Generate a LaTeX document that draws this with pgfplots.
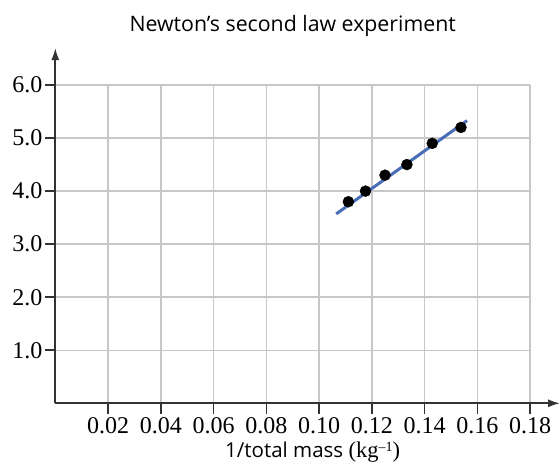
\documentclass[border=0pt]{standalone}
\usepackage{fontspec}
\setmainfont{Liberation Serif}
\newfontfamily\sans{Open Sans}
\usepackage{pgfplots}
\pgfplotsset{compat=1.18}
\usetikzlibrary{arrows.meta}
\definecolor{fitblue}{HTML}{4A6DB8}
\definecolor{axgray}{HTML}{333333}
\begin{document}
\begin{tikzpicture}
\begin{axis}[
  name=ax,
  scale only axis,
  width=474.8pt, height=318.3pt,
  xmin=0, xmax=0.18, ymin=0, ymax=6,
  axis x line=bottom, axis y line=left,
  x axis line style={-{Latex[length=12pt,width=8pt]}, shorten >=-30pt},
  y axis line style={-{Latex[length=12pt,width=8pt]}, shorten >=-37pt},
  axis line style={axgray, line width=1.8pt},
  xtick={0.02,0.04,0.06,0.08,0.10,0.12,0.14,0.16,0.18},
  xticklabels={0.02,0.04,0.06,0.08,0.10,0.12,0.14,0.16,0.18},
  ytick={1,2,3,4,5,6},
  yticklabels={1.0,2.0,3.0,4.0,5.0,6.0},
  tick align=outside,
  major tick length=10.5pt,
  tick style={axgray, line width=1.5pt},
  grid=major,
  major grid style={black!22, line width=1.4pt},
  ticklabel style={font=\fontsize{24}{26}\selectfont},
  yticklabel style={xshift=1pt},
  clip=false,
]
\addplot[fitblue, line width=3pt] coordinates {(0.1065,3.57) (0.1561,5.33)};
\addplot[only marks, mark=*, mark size=5.5pt, black] coordinates {
  (0.1111,3.8) (0.1176,4.0) (0.1250,4.3) (0.1333,4.5) (0.1429,4.9) (0.1538,5.2)};
\end{axis}
\node[anchor=base, font=\sans\fontsize{21.3}{24}\selectfont] at ([yshift=53.3pt]ax.north) {Newton’s second law experiment};
\node[anchor=base west, inner sep=0pt] at ([xshift=169.7pt,yshift=-54.7pt]ax.south west) {{\sans\fontsize{20.5}{22}\selectfont 1/total mass }{\fontsize{22.5}{24}\selectfont(kg\raisebox{6.5pt}{\fontsize{14}{14}\selectfont –1})}};
\pgfresetboundingbox
\path ([shift={(-55.3pt,-61.7pt)}]ax.south west) rectangle ([shift={(504.7pt,403.3pt)}]ax.south west);
\end{tikzpicture}
\end{document}
